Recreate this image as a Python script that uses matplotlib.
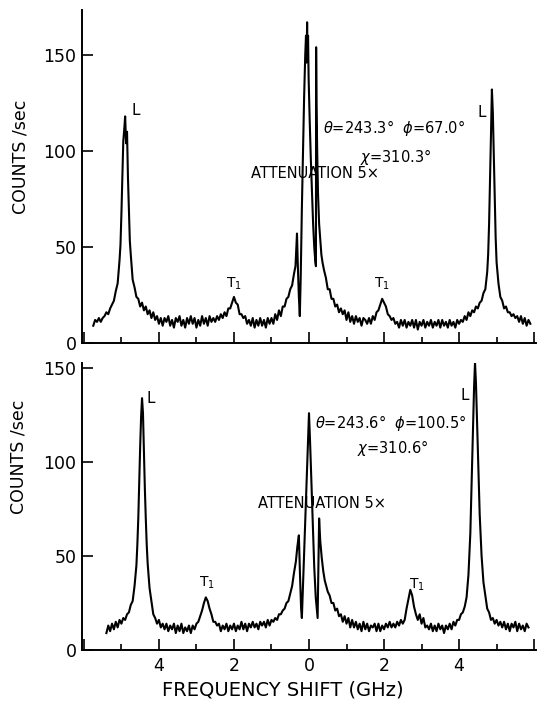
import numpy as np
import matplotlib
matplotlib.use("Agg")
import matplotlib.pyplot as plt


def grid(a, b):
    # evenly spaced channel frequencies (GHz), 0.05 GHz apart
    return np.round(np.arange(a, b + 0.001, 0.05), 3)


# ---- upper spectrum: theta=243.3, phi=67.0, chi=310.3 ----
top_f = np.concatenate([
    grid(-5.75, -5.25),
    [-5.20, -5.15, -5.10, -5.05, -5.025, -5.00, -4.975, -4.95, -4.925, -4.90,
     -4.875, -4.85, -4.825, -4.80, -4.775, -4.75, -4.70, -4.65, -4.60, -4.55],
    grid(-4.50, -0.40),
    [-0.36, -0.34, -0.32, -0.30, -0.27, -0.245, -0.22, -0.19, -0.16, -0.13,
     -0.10, -0.08, -0.065, -0.05, -0.04, -0.025, -0.01, 0.02, 0.05, 0.08,
     0.11, 0.14, 0.17, 0.185, 0.19, 0.20, 0.22, 0.24, 0.27, 0.30, 0.33, 0.36],
    grid(0.40, 4.45),
    [4.50, 4.55, 4.60, 4.65, 4.70, 4.75, 4.775, 4.80, 4.825, 4.85,
     4.875, 4.90, 4.925, 4.95, 4.975, 5.00, 5.05, 5.10, 5.15, 5.20],
    grid(5.25, 5.90),
])
top_counts = [
    9, 12, 11, 13, 11, 13, 14, 16, 15, 18, 20,
    22, 27, 31, 43, 51, 67, 85, 105, 111, 118, 104, 110, 86, 69, 53, 46, 33, 29, 24, 23,
    19, 21, 17, 19, 15, 17, 13, 16, 12, 14, 10, 13, 9, 13, 11, 14, 9, 12, 8, 13,
    11, 14, 9, 12, 8, 13, 10, 14, 10, 13, 8, 12, 9, 14, 10, 13, 9, 14, 11, 13,
    11, 14, 12, 15,
    13, 16, 14, 18, 18, 21, 24, 21, 20, 15, 15, 13, 14, 10, 12,
    9, 13, 8, 12, 9, 13, 9, 12, 8, 13, 10, 13, 10, 15, 12, 17, 14, 19, 19, 23,
    24, 28, 30, 36,
    40, 48, 57, 42, 24, 14, 35, 70, 100, 128, 150, 160, 146, 167, 150, 160, 138,
    115, 95, 78, 62, 50, 42, 40, 154, 125, 98, 78, 62, 54, 46, 42,
    38, 34, 28, 28, 23, 23, 19, 20, 16, 18, 15, 17, 12, 16, 11, 14, 10, 14, 11, 13,
    9, 13, 12, 10, 13,
    10, 14, 12, 16, 17, 20, 23, 21, 19, 15, 14, 12, 13, 10,
    11, 8, 12, 9, 12, 8, 11, 9, 12, 8, 12, 7, 11, 9, 12, 8, 11, 9, 12, 8,
    11, 9, 12, 8, 12, 9, 11, 8, 12, 9, 11, 8, 12, 10, 12, 11, 14, 12, 16, 14,
    17, 16, 19,
    18, 21, 22, 26, 28, 37, 46, 62, 84, 108, 132, 120, 98, 74, 55, 42, 31, 24, 22, 18,
    19, 16, 16, 14, 15, 13, 14, 11, 14, 10, 13, 9, 12, 10,
]

# ---- lower spectrum: theta=243.6, phi=100.5, chi=310.6 ----
bot_f = np.concatenate([
    grid(-5.40, -4.80),
    [-4.75, -4.70, -4.65, -4.60, -4.575, -4.55, -4.525, -4.50, -4.475, -4.45,
     -4.425, -4.40, -4.375, -4.35, -4.325, -4.30, -4.25, -4.20, -4.15, -4.10],
    grid(-4.05, -0.55),
    [-0.50, -0.45, -0.40, -0.35, -0.31, -0.27, -0.24, -0.21, -0.19, -0.15,
     -0.10, -0.05, -0.02, 0.0, 0.03, 0.06, 0.10, 0.14, 0.18, 0.23,
     0.25, 0.27, 0.30, 0.34, 0.38, 0.42, 0.46],
    grid(0.50, 4.05),
    [4.10, 4.15, 4.20, 4.25, 4.30, 4.325, 4.35, 4.375, 4.40, 4.425,
     4.45, 4.475, 4.50, 4.525, 4.55, 4.60, 4.65, 4.70, 4.75, 4.80],
    grid(4.85, 5.85),
])
bot_counts = [
    9, 13, 10, 14, 11, 15, 12, 16, 14, 17, 16, 19, 20,
    24, 26, 34, 45, 56, 70, 90, 108, 124, 134, 126, 105, 86, 70, 56, 46, 33, 26, 19, 17,
    14, 16, 12, 14, 11, 14, 10, 13, 11, 14, 9, 13, 10, 14, 9, 12, 10, 13, 9, 13, 11,
    14, 15, 18, 21, 25, 28, 26, 22, 19, 15, 15, 13, 14, 10, 13,
    11, 14, 10, 13, 11, 14, 10, 13, 11, 15, 11, 14, 10, 14, 12, 15, 12, 14, 11, 15,
    13, 15, 12, 16, 13, 16, 15, 17, 16, 19, 19, 21, 22, 25, 26,
    30, 34, 41, 47, 55, 61, 40, 22, 17, 40, 68, 98, 114, 126, 110, 92, 68, 44, 28, 17,
    42, 70, 58, 49, 42, 37, 34,
    31, 29, 25, 25, 21, 22, 18, 19, 15, 18, 14, 17, 12, 16, 12, 15, 11, 14, 10, 15,
    11, 14, 10, 13, 12, 14, 10, 14, 10, 13, 11, 14, 12, 15, 12, 14, 12, 15, 13, 16,
    14, 16, 22, 27, 32, 29, 23, 19, 16, 19, 14, 17, 12,
    13, 11, 14, 10, 13, 10, 14, 11, 13, 9, 13, 11, 14, 11, 15, 13, 16, 16, 19,
    20, 23, 28, 40, 62, 82, 100, 120, 140, 153, 142, 124, 104, 88, 72, 50, 36, 29, 22, 20,
    16, 17, 14, 16, 13, 15, 12, 15, 11, 14, 10, 14, 12, 15, 10, 14, 11, 13, 10, 14, 12,
]

major_ticks = [-6, -4, -2, 0, 2, 4, 6]
major_labels = ["", "4", "2", "0", "2", "4", ""]
minor_ticks = [-5, -3, -1, 1, 3, 5]
y_ticks = [0, 50, 100, 150]

fig = plt.figure(figsize=(5.42, 7.02), dpi=100)
ax_top = fig.add_axes([0.1513, 0.5114, 0.8376, 0.4744])
ax_bot = fig.add_axes([0.1513, 0.0741, 0.8376, 0.4088])

for ax, f, c, ytop in [(ax_top, top_f, top_counts, 173.4),
                       (ax_bot, bot_f, bot_counts, 152.7)]:
    ax.plot(f, c, color="black", lw=1.5)
    ax.set_xlim(-6.05, 6.05)
    ax.set_ylim(0, ytop)
    for s in ["top", "right"]:
        ax.spines[s].set_visible(False)
    for s in ["left", "bottom"]:
        ax.spines[s].set_linewidth(1.4)
    ax.set_xticks(major_ticks)
    ax.set_xticks(minor_ticks, minor=True)
    ax.set_yticks(y_ticks)
    ax.tick_params(axis="both", which="major", direction="in", length=8,
                   width=1.2, labelsize=12.5, pad=4)
    ax.tick_params(axis="x", which="minor", direction="in", length=4, width=1.2)
    ax.tick_params(axis="x", which="major", pad=5)

ax_top.set_xticklabels([])
ax_bot.set_xticklabels(major_labels)

tsize = 10.5
# upper panel annotations
ax_top.text(-4.61, 121, "L", fontsize=11, ha="center", va="center")
ax_top.text(4.60, 120, "L", fontsize=11, ha="center", va="center")
ax_top.text(-1.99, 31, "T$_\\mathregular{1}$", fontsize=10, ha="center", va="center")
ax_top.text(1.95, 31, "T$_\\mathregular{1}$", fontsize=10, ha="center", va="center")
ax_top.text(0.37, 112, "$\\theta$=243.3°  $\\phi$=67.0°", fontsize=tsize,
            ha="left", va="center")
ax_top.text(1.36, 97, "$\\chi$=310.3°", fontsize=tsize, ha="left", va="center")
ax_top.text(-1.55, 88.5, "ATTENUATION 5×", fontsize=tsize, ha="left", va="center")

# lower panel annotations
ax_bot.text(-4.21, 134, "L", fontsize=11, ha="center", va="center")
ax_bot.text(4.16, 135.5, "L", fontsize=11, ha="center", va="center")
ax_bot.text(-2.72, 36, "T$_\\mathregular{1}$", fontsize=10, ha="center", va="center")
ax_bot.text(2.88, 34.6, "T$_\\mathregular{1}$", fontsize=10, ha="center", va="center")
ax_bot.text(0.16, 120.7, "$\\theta$=243.6°  $\\phi$=100.5°", fontsize=tsize,
            ha="left", va="center")
ax_bot.text(1.28, 107.4, "$\\chi$=310.6°", fontsize=tsize, ha="left", va="center")
ax_bot.text(-1.36, 78.2, "ATTENUATION 5×", fontsize=tsize, ha="left", va="center")

fig.text(0.037, 0.776, "COUNTS /sec", rotation=90, fontsize=12.5,
         ha="center", va="center")
fig.text(0.035, 0.349, "COUNTS /sec", rotation=90, fontsize=12.5,
         ha="center", va="center")
fig.text(0.521, 0.017, "FREQUENCY SHIFT (GHz)", fontsize=14,
         ha="center", va="center")

fig.savefig("out.png", dpi=100)
